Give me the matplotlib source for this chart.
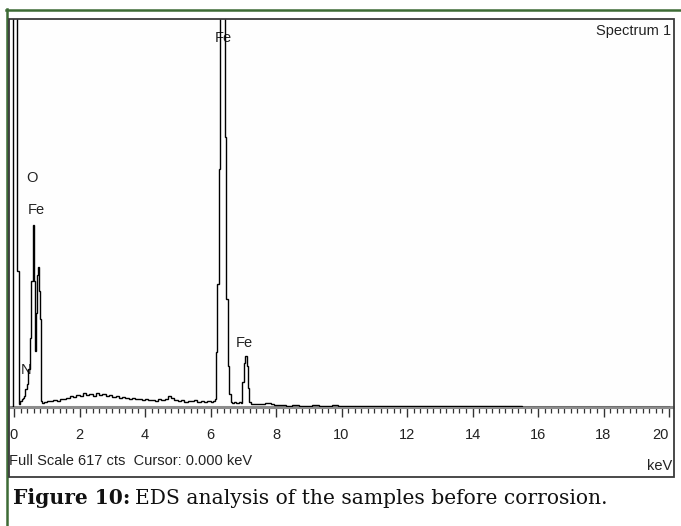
import matplotlib
matplotlib.use('Agg')
import matplotlib.pyplot as plt
from matplotlib.ticker import MultipleLocator, FixedLocator
from matplotlib.patches import Rectangle
from matplotlib.lines import Line2D

# ---------------- data ----------------
energy_kev = [-0.05, -0.03, 0.00, 0.04, 0.08, 0.11, 0.14, 0.17, 0.21, 0.25, 0.29, 0.33,
              0.37, 0.41, 0.45, 0.50, 0.55, 0.58, 0.62, 0.65, 0.68, 0.72, 0.75, 0.79,
              0.82, 0.85, 0.89,
              0.95, 1.05, 1.15, 1.25, 1.35, 1.45, 1.55, 1.65, 1.75, 1.85, 1.95, 2.05,
              2.15, 2.25, 2.35, 2.45, 2.55, 2.65, 2.75, 2.85, 2.95, 3.05, 3.15, 3.25,
              3.35, 3.45, 3.55, 3.65, 3.75, 3.85, 3.95, 4.05, 4.15, 4.25, 4.35, 4.45,
              4.55, 4.65, 4.75, 4.85, 4.95, 5.05, 5.15, 5.25, 5.35, 5.45, 5.55, 5.65,
              5.75, 5.85, 5.95, 6.05, 6.10,
              6.15, 6.18, 6.23, 6.28, 6.32, 6.36, 6.41, 6.45, 6.50, 6.55, 6.60, 6.64,
              6.70, 6.75, 6.80, 6.85, 6.90, 6.95, 6.99, 7.04, 7.08, 7.12, 7.16, 7.20,
              7.25, 7.4, 7.5, 7.6, 7.7, 7.8, 7.9, 8.0, 8.2, 8.4, 8.6, 8.8, 9.0, 9.2,
              9.4, 9.6, 9.8, 10.0, 10.3, 10.6, 10.9, 11.2, 11.5, 11.8, 12.1, 12.4,
              12.7, 13.0, 13.3, 13.7, 14.0, 14.6, 15.0, 16.0, 17.0, 18.0, 19.0, 20.0]
counts = [0, 1000, 1000, 1000, 1000, 216, 216, 5, 10, 13, 14, 18,
          29, 37, 60, 110, 200, 289, 200, 89, 150, 210, 222, 184,
          140, 10, 6,
          8, 10, 9, 11, 10, 13, 12, 15, 17, 16, 19, 18, 22, 19, 21,
          18, 22, 19, 20, 17, 19, 16, 17, 15, 16, 14, 13, 14, 12, 13,
          11, 12, 11, 11, 10, 12, 11, 13, 17, 14, 11, 9, 11, 8, 10,
          9, 11, 8, 10, 8, 9, 8, 9,
          12, 88, 195, 378, 1000, 1000, 1000, 430, 171, 65, 20, 8,
          7, 8, 6, 7, 8, 6, 40, 70, 81, 65, 30, 8,
          5, 5, 4, 5, 7, 7, 4, 3, 3, 2, 3, 2, 2, 3,
          2, 2, 3, 2, 2, 1, 2, 2, 1, 1, 2, 2,
          1, 2, 1, 2, 1, 2, 1, 0, 0, 0, 0, 0]
x_ticks = [0, 2, 4, 6, 8, 10, 12, 14, 16, 18, 20]
peak_labels = ['O', 'Fe', 'N', 'Fe', 'Fe']
peak_label_kev = [0.55, 0.67, 0.37, 6.38, 7.02]
peak_label_cts = [364, 313, 59, 587, 102]
full_scale = 617

# ---------------- layout ----------------
W, H = 681, 526
fig = plt.figure(figsize=(W / 100, H / 100), dpi=100)
fig.patch.set_facecolor('white')

def fx(x):
    return x / W

def fy(y):
    return 1 - y / H

sans = ['Liberation Sans Narrow', 'Liberation Sans', 'DejaVu Sans']
serif = ['DejaVu Serif']

# axes: E=0 at x=14, E=20 at x=669 ; counts 0 at y=407, full scale at y=19
x0_px = 14.0
px_per_kev = 32.75
ax_left, ax_right, ax_top, ax_bottom = 9, 674, 19, 407
ax = fig.add_axes([fx(ax_left), fy(ax_bottom), (ax_right - ax_left) / W,
                   (ax_bottom - ax_top) / H])
ax.set_xlim((ax_left - x0_px) / px_per_kev, (ax_right - x0_px) / px_per_kev)
ax.set_ylim(0, full_scale)
ax.set_facecolor('#fefefe')

ax.plot(energy_kev, counts, color='black', lw=1.0, drawstyle='steps-mid',
        solid_joinstyle='miter', zorder=3)

for s in ['top', 'left', 'right']:
    ax.spines[s].set_visible(False)
ax.spines['bottom'].set_color('#8c8c8c')
ax.spines['bottom'].set_linewidth(2.2)
ax.spines['bottom'].set_capstyle('butt')
ax.spines['bottom'].set_zorder(2)

ax.xaxis.set_major_locator(FixedLocator(x_ticks))
ax.xaxis.set_minor_locator(MultipleLocator(0.2))
ax.set_xticklabels([str(t) for t in x_ticks])
ax.tick_params(axis='x', which='major', direction='out', length=7, width=1.0,
               color='#333333', pad=8, labelsize=10.5, labelcolor='#222222')
ax.tick_params(axis='x', which='minor', direction='out', length=4, width=0.9,
               color='#333333')
for lab in ax.get_xticklabels():
    lab.set_family(sans)
ax.get_xticklabels()[-1].set_horizontalalignment('right')
ax.get_xticklabels()[-1].set_x(20.12)
ax.set_yticks([])

for lab, e, c in zip(peak_labels, peak_label_kev, peak_label_cts):
    ax.text(e, c, lab, ha='center', va='center', fontsize=10.5, family=sans,
            color='#222222', zorder=2)

# outer dark box
fig.patches.append(Rectangle((fx(8.5), fy(477)), (674 - 8.5) / W, (477 - 18.5) / H,
                             transform=fig.transFigure, fill=False,
                             edgecolor='#3a3a3a', lw=1.3, zorder=5))

# green frame (left and top)
fig.lines.append(Line2D([fx(7), fx(7)], [fy(9), 0], transform=fig.transFigure,
                        color='#3d6b35', lw=1.8))
fig.lines.append(Line2D([fx(6), 1], [fy(10), fy(10)], transform=fig.transFigure,
                        color='#3d6b35', lw=1.8))

# texts
fig.text(fx(671), fy(31), 'Spectrum 1', ha='right', va='center', fontsize=10.5,
         family=sans, color='#222222')
fig.text(fx(9), fy(461), 'Full Scale 617 cts  Cursor: 0.000 keV', ha='left',
         va='center', fontsize=10.5, family=sans, color='#222222')
fig.text(fx(672), fy(466), 'keV', ha='right', va='center', fontsize=10.5,
         family=sans, color='#222222')

t1 = fig.text(fx(13), fy(504), 'Figure 10:', ha='left', va='baseline',
              fontsize=14.6, family=serif, fontweight='bold', color='#111111')
fig.canvas.draw()
r = fig.canvas.get_renderer()
bb = t1.get_window_extent(renderer=r)
fig.text(bb.x1 / W + fx(5), fy(504), 'EDS analysis of the samples before corrosion.',
         ha='left', va='baseline', fontsize=14.6, family=serif, color='#111111')

fig.savefig('out.png', dpi=100, facecolor='white')
